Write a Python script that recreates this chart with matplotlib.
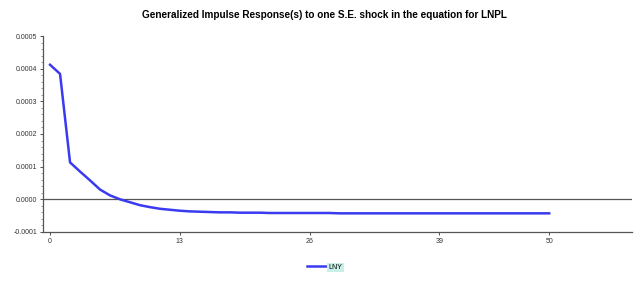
import numpy as np
import matplotlib.pyplot as plt
from matplotlib.ticker import MultipleLocator

# horizon and response of the variable to a one S.E. shock in LNPL
horizon = np.arange(0, 51)
response = [0.000412, 0.000384, 0.000113, 0.000085, 0.000058, 0.000030,
            0.000012, 0.000000, -0.000009, -0.000018, -0.000024, -0.000029,
            -0.000032, -0.000035, -0.000037, -0.000038, -0.000039, -0.000040,
            -0.000040, -0.000041, -0.000041, -0.000041, -0.000042, -0.000042,
            -0.000042, -0.000042, -0.000042, -0.000042, -0.000042, -0.000043,
            -0.000043, -0.000043, -0.000043, -0.000043, -0.000043, -0.000043,
            -0.000043, -0.000043, -0.000043, -0.000043, -0.000043, -0.000043,
            -0.000043, -0.000043, -0.000043, -0.000043, -0.000043, -0.000043,
            -0.000043, -0.000043, -0.000043]
x_ticks = [0, 13, 26, 39, 50]
y_ticks = [-0.0001, 0.0, 0.0001, 0.0002, 0.0003, 0.0004, 0.0005]
series_name = 'LNY'
title = 'Generalized Impulse Response(s) to one S.E. shock in the equation for LNPL'

plt.rcParams['font.family'] = ['Liberation Sans', 'DejaVu Sans']

fig = plt.figure(figsize=(6.43, 2.86), dpi=100)
ax = fig.add_axes([0.067, 0.189, 0.916, 0.685])

ax.axhline(0, color='#555555', lw=0.9, zorder=1)
ax.plot(horizon, response, color='#3a3af0', lw=1.8, label=series_name, zorder=3)

ax.set_xlim(-0.7, 58.3)
ax.set_ylim(-0.0001, 0.0005)
ax.set_xticks(x_ticks)
ax.set_yticks(y_ticks)
ax.set_yticklabels([f'{v:.4f}' for v in y_ticks])
ax.yaxis.set_minor_locator(MultipleLocator(0.00002))
ax.tick_params(axis='both', labelsize=5, length=2, width=0.6, colors='#333333', pad=2)
ax.tick_params(axis='y', which='minor', length=1.2, width=0.5, colors='#777777')

for side in ['top', 'right']:
    ax.spines[side].set_visible(False)
for side in ['left', 'bottom']:
    ax.spines[side].set_color('#555555')
    ax.spines[side].set_linewidth(0.9)

fig.suptitle(title, fontsize=7.2, fontweight='bold', x=0.505, y=0.965)

leg = fig.legend(loc='center', bbox_to_anchor=(0.505, 0.065), fontsize=5,
                 frameon=False, handlelength=2.8, handletextpad=0.3)
for t in leg.get_texts():
    t.set_bbox(dict(facecolor='#c8f0e8', edgecolor='none', pad=1))

fig.savefig('out.png', dpi=100)
